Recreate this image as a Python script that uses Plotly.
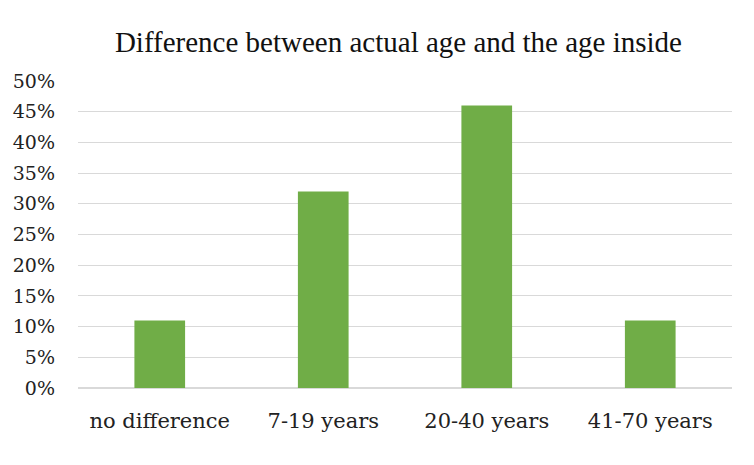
import plotly.graph_objects as go

categories = ["no difference", "7-19 years", "20-40 years", "41-70 years"]
values = [0.11, 0.32, 0.46, 0.11]
tick_vals = [0, 0.05, 0.10, 0.15, 0.20, 0.25, 0.30, 0.35, 0.40, 0.45, 0.50]
tick_text = ["0%", "5%", "10%", "15%", "20%", "25%", "30%", "35%", "40%", "45%", "50%"]

fig = go.Figure(go.Bar(x=categories, y=values, marker_color="#70AD47", marker_line_width=0))

fig.update_layout(
    width=746, height=449,
    margin=dict(l=70, r=22, t=73, b=69),
    paper_bgcolor="white", plot_bgcolor="white",
    bargap=0.69,
    showlegend=False,
    font=dict(family="DejaVu Serif", color="#222222"),
    title=dict(text="Difference between actual age and the age inside",
               xref="paper", x=0.49, xanchor="center", y=0.925, yanchor="middle",
               font=dict(family="Liberation Serif", size=29, color="#111111")),
)
fig.update_xaxes(showgrid=False, showline=False, ticks="", ticklabelstandoff=18, automargin=False,
                 tickfont=dict(family="DejaVu Serif", size=21, color="#222222"))
fig.update_yaxes(range=[0, 0.5], tickvals=tick_vals, ticktext=tick_text, showgrid=True,
                 gridcolor="#D9D9D9", gridwidth=1, zeroline=True, zerolinecolor="#D9D9D9",
                 showline=False, ticks="", ticklabelstandoff=22, automargin=False,
                 tickfont=dict(family="DejaVu Serif", size=19, color="#222222"))

fig.write_html("out.html")
